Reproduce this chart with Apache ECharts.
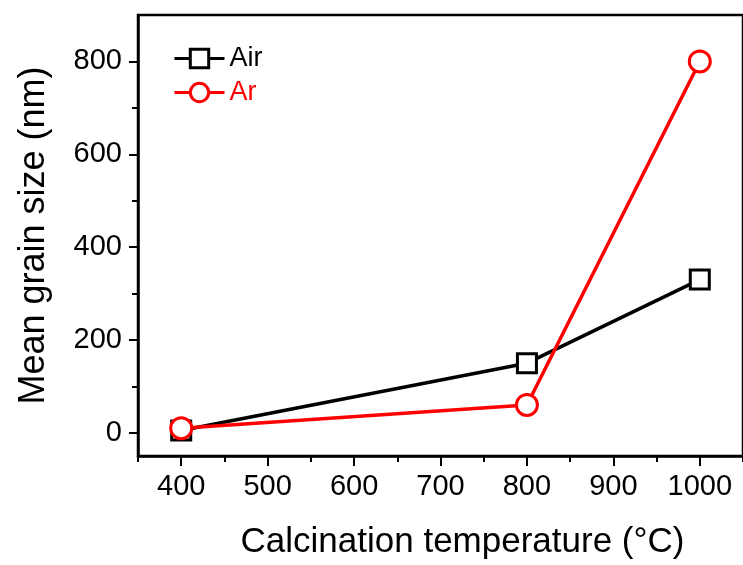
<!DOCTYPE html>
<html>
<head>
<meta charset="utf-8">
<title>Mean grain size vs calcination temperature</title>
<script src="https://cdn.jsdelivr.net/npm/echarts@6/dist/echarts.min.js"></script>
<style>
  html, body { margin: 0; padding: 0; background: #fff; }
  #chart { width: 743px; height: 565px; }
</style>
</head>
<body>
<div id="chart"></div>
<script>
// Calcination temperatures (°C)
const temperatures = [400, 800, 1000];
// Mean grain size (nm) for each atmosphere
const airSize = [5, 150, 330];
const arSize = [10, 60, 800];
// Tick positions
const xMajorTicks = [400, 500, 600, 700, 800, 900, 1000];
const xMinorTicks = [350, 450, 550, 650, 750, 850, 950, 1050];
const yMajorTicks = [0, 200, 400, 600, 800];
const yMinorTicks = [100, 300, 500, 700];

const FONT = "'Liberation Sans', Arial, sans-serif";

const pairs = (xs, ys) => xs.map((x, i) => [x, ys[i]]);
const plain = v => String(v);

const chart = echarts.init(document.getElementById('chart'), null, { renderer: 'canvas' });

chart.setOption({
  backgroundColor: '#fff',
  animation: false,
  grid: { left: 138, top: 15, width: 609, height: 449, show: true, borderColor: '#000', borderWidth: 2.5, containLabel: false },
  legend: {
    orient: 'vertical',
    left: 168,
    top: 40,
    itemWidth: 50,
    itemHeight: 23,
    itemGap: 7,
    lineStyle: { width: 3 },
    itemStyle: { borderWidth: 3 },
    textStyle: { fontFamily: FONT, fontSize: 27 },
    data: [
      { name: 'Air', textStyle: { color: '#000' } },
      { name: 'Ar', textStyle: { color: '#ff0000' } }
    ]
  },
  xAxis: [
    {
      type: 'value', min: 350, max: 1050,
      name: 'Calcination temperature (°C)',
      nameLocation: 'middle', nameGap: 69,
      nameTextStyle: { fontFamily: FONT, fontSize: 35, color: '#000', padding: [0, 0, 0, 44] },
      axisLine: { show: true, onZero: false, lineStyle: { color: '#000', width: 2.5 } },
      axisTick: { show: true, inside: false, length: 10, customValues: xMajorTicks, lineStyle: { color: '#000', width: 2 } },
      axisLabel: { show: true, margin: 16, customValues: xMajorTicks, formatter: plain, fontFamily: FONT, fontSize: 29, color: '#000' },
      splitLine: { show: false }
    },
    {
      type: 'value', min: 350, max: 1050, position: 'bottom',
      axisLine: { show: false, onZero: false },
      axisTick: { show: true, inside: false, length: 6, customValues: xMinorTicks, lineStyle: { color: '#000', width: 2 } },
      axisLabel: { show: false },
      splitLine: { show: false }
    }
  ],
  yAxis: [
    {
      type: 'value', min: -50, max: 900,
      name: 'Mean grain size (nm)',
      nameLocation: 'middle', nameGap: 86, nameRotate: 90,
      nameTextStyle: { fontFamily: FONT, fontSize: 36, color: '#000' },
      axisLine: { show: true, onZero: false, lineStyle: { color: '#000', width: 2.5 } },
      axisTick: { show: true, inside: false, length: 9, customValues: yMajorTicks, lineStyle: { color: '#000', width: 2 } },
      axisLabel: { show: true, margin: 16, customValues: yMajorTicks, formatter: plain, fontFamily: FONT, fontSize: 29, color: '#000' },
      splitLine: { show: false }
    },
    {
      type: 'value', min: -50, max: 900, position: 'left',
      axisLine: { show: false, onZero: false },
      axisTick: { show: true, inside: false, length: 6, customValues: yMinorTicks, lineStyle: { color: '#000', width: 2 } },
      axisLabel: { show: false },
      splitLine: { show: false }
    }
  ],
  series: [
    {
      name: 'Air', type: 'line',
      data: pairs(temperatures, airSize),
      symbol: 'rect', symbolSize: 19,
      lineStyle: { color: '#000', width: 3.5 },
      itemStyle: { color: '#fff', borderColor: '#000', borderWidth: 3 },
      z: 2
    },
    {
      name: 'Ar', type: 'line',
      data: pairs(temperatures, arSize),
      symbol: 'circle', symbolSize: 21,
      lineStyle: { color: '#ff0000', width: 3.5 },
      itemStyle: { color: '#fff', borderColor: '#ff0000', borderWidth: 3 },
      z: 3
    }
  ]
});
</script>
</body>
</html>
